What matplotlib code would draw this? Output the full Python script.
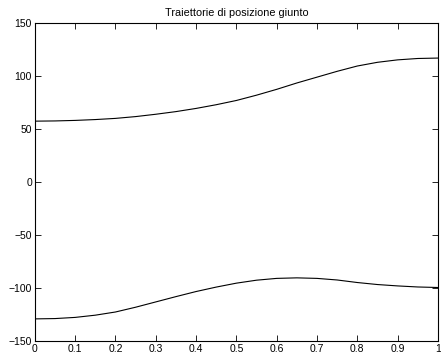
import numpy as np
import matplotlib.pyplot as plt

plt.rcParams['font.family'] = ['Liberation Sans', 'DejaVu Sans']

t = [0, 0.05, 0.1, 0.15, 0.2, 0.25, 0.3, 0.35, 0.4, 0.45, 0.5,
     0.55, 0.6, 0.65, 0.7, 0.75, 0.8, 0.85, 0.9, 0.95, 1.0]

# joint 1 position
q1 = [57.5, 57.7, 58.2, 59.0, 60.1, 61.8, 64.0, 66.5, 69.5, 73.0, 77.0,
      82.0, 87.5, 93.5, 99.0, 104.5, 109.5, 113.0, 115.3, 116.6, 117.0]

# joint 2 position
q2 = [-129.0, -128.7, -127.6, -125.5, -122.5, -118.0, -113.0, -108.0, -103.2, -99.0, -95.3,
      -92.5, -90.8, -90.3, -90.8, -92.3, -94.7, -96.6, -97.9, -98.9, -99.4]

fig = plt.figure(figsize=(4.41, 3.55), dpi=100)
ax = fig.add_axes([0.079, 0.039, 0.914, 0.896])

ax.plot(t, q1, color="black", linewidth=0.8)
ax.plot(t, q2, color="black", linewidth=0.8)

ax.set_xlim(0, 1)
ax.set_ylim(-150, 150)
ax.set_xticks(np.arange(0, 1.01, 0.1))
ax.set_xticklabels(["0", "0.1", "0.2", "0.3", "0.4", "0.5", "0.6", "0.7", "0.8", "0.9", "1"])
ax.set_yticks(np.arange(-150, 151, 50))

ax.tick_params(direction="in", top=True, right=True, length=4, width=0.6,
               labelsize=7.5, pad=2)
for s in ax.spines.values():
    s.set_linewidth(0.8)

ax.set_title("Traiettorie di posizione giunto", fontsize=7.8, pad=5)

fig.savefig("out.png", dpi=100)
